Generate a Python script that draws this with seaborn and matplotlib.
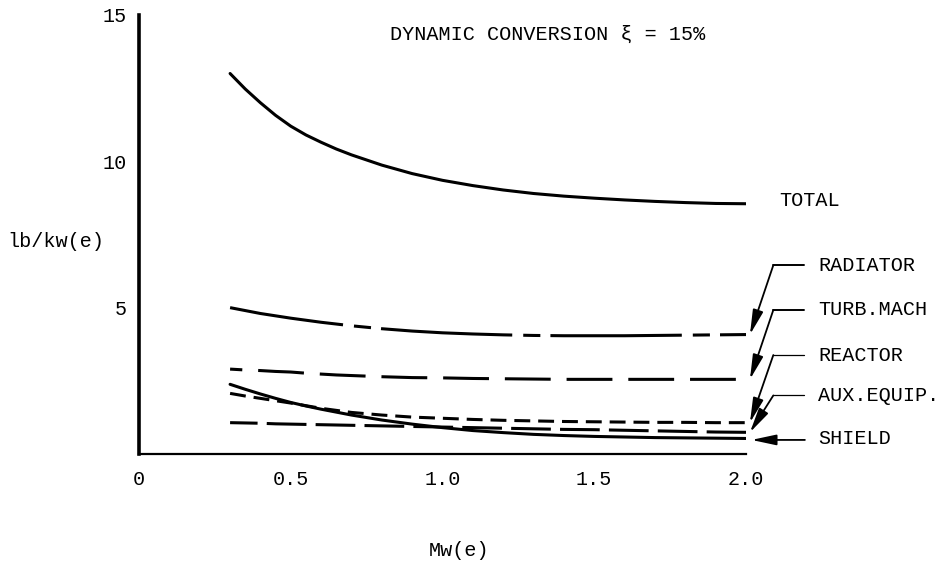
import matplotlib
matplotlib.use("Agg")
import matplotlib.pyplot as plt
import numpy as np
import pandas as pd
import seaborn as sns

# Specific weight of the power-plant components versus electrical output
mw = [0.3, 0.35, 0.4, 0.45, 0.5, 0.55, 0.6, 0.65, 0.7, 0.8, 0.9,
      1.0, 1.1, 1.2, 1.3, 1.4, 1.5, 1.6, 1.7, 1.8, 1.9, 2.0]
total = [13.0, 12.47, 12.0, 11.57, 11.2, 10.9, 10.65, 10.42, 10.22, 9.87, 9.58,
         9.35, 9.17, 9.02, 8.9, 8.81, 8.74, 8.68, 8.63, 8.59, 8.56, 8.55]
radiator = [5.0, 4.9, 4.8, 4.72, 4.64, 4.57, 4.5, 4.44, 4.38, 4.28, 4.2,
            4.14, 4.1, 4.07, 4.05, 4.04, 4.04, 4.04, 4.05, 4.06, 4.07, 4.08]
turb_mach = [2.9, 2.87, 2.85, 2.82, 2.8, 2.76, 2.73, 2.7, 2.68, 2.64, 2.61,
             2.6, 2.58, 2.57, 2.56, 2.55, 2.55, 2.55, 2.55, 2.55, 2.55, 2.55]
reactor = [2.07, 1.98, 1.9, 1.82, 1.74, 1.65, 1.56, 1.49, 1.42, 1.33, 1.26,
           1.22, 1.18, 1.15, 1.13, 1.11, 1.1, 1.09, 1.08, 1.08, 1.07, 1.07]
aux_equip = [1.07, 1.06, 1.05, 1.03, 1.02, 1.01, 1.0, 0.99, 0.98, 0.96, 0.94,
             0.92, 0.9, 0.88, 0.86, 0.84, 0.83, 0.81, 0.79, 0.77, 0.75, 0.74]
shield = [2.38, 2.21, 2.05, 1.9, 1.76, 1.64, 1.53, 1.43, 1.33, 1.16, 1.02,
          0.9, 0.8, 0.73, 0.67, 0.63, 0.6, 0.58, 0.56, 0.55, 0.54, 0.53]

components = ["TOTAL", "RADIATOR", "TURB.MACH", "REACTOR", "AUX.EQUIP.", "SHIELD"]
series = [total, radiator, turb_mach, reactor, aux_equip, shield]

x_ticks = [0, 0.5, 1.0, 1.5, 2.0]
x_tick_labels = ["0", "0.5", "1.0", "1.5", "2.0"]
y_ticks = [5, 10, 15]
y_tick_labels = ["5", "10", "15"]

df = pd.concat(
    [pd.DataFrame({"mw": mw, "weight": vals, "component": name})
     for name, vals in zip(components, series)],
    ignore_index=True,
)

sns.set_theme(style="white")
plt.rcParams["font.family"] = ["Liberation Mono", "DejaVu Sans Mono"]
plt.rcParams["text.color"] = "black"
plt.rcParams["axes.labelcolor"] = "black"
plt.rcParams["xtick.color"] = "black"
plt.rcParams["ytick.color"] = "black"

FS = 14.5

line_styles = {
    "TOTAL": "-",
    "RADIATOR": (5.6, (43, 3.6, 5.6, 3.3)),
    "TURB.MACH": (11, (15, 5.2)),
    "REACTOR": (0, (5.2, 2.6)),
    "AUX.EQUIP.": (4, (13, 3)),
    "SHIELD": "-",
}

fig = plt.figure(figsize=(9.53, 5.65), dpi=100)
ax = fig.add_axes([0.1459, 0.1965, 0.6369, 0.777])

for name in components:
    sub = df[df["component"] == name]
    sns.lineplot(data=sub, x="mw", y="weight", ax=ax, color="black",
                 linewidth=2.2, linestyle=line_styles[name],
                 errorbar=None, legend=False)

ax.set_xlim(0, 2.0)
ax.set_ylim(0, 15)
for side in ("top", "right"):
    ax.spines[side].set_visible(False)
ax.spines["left"].set_linewidth(2.6)
ax.spines["bottom"].set_linewidth(1.6)
ax.spines["left"].set_color("black")
ax.spines["bottom"].set_color("black")

ax.set_xticks(x_ticks)
ax.set_xticklabels(x_tick_labels)
ax.set_yticks(y_ticks)
ax.set_yticklabels(y_tick_labels)
ax.tick_params(axis="x", direction="inout", length=11, width=1.6,
               pad=6, labelsize=FS)
ax.tick_params(axis="y", direction="inout", length=12, width=2.0,
               pad=3, labelsize=FS)
ax.xaxis.get_major_ticks()[0].tick1line.set_visible(False)

ax.set_ylabel("lb/kw(e)", rotation=0, ha="left", va="center", fontsize=FS)
ax.yaxis.set_label_coords(-0.2175, 0.483)
ax.set_xlabel("Mw(e)", ha="center", va="center", fontsize=FS)
ax.xaxis.set_label_coords(0.527, -0.219)

ax.text(0.827, 14.35, "DYNAMIC CONVERSION ξ = 15%", va="center",
        ha="left", fontsize=FS)

# Component labels at the right with pointer arrows to the curve ends
x_end = mw[-1]
ends = dict(zip(components, [s[-1] for s in series]))
ax.text(2.11, ends["TOTAL"] + 0.12, "TOTAL", va="center", ha="left",
        fontsize=FS)

label_levels = {"RADIATOR": 6.45, "TURB.MACH": 4.92,
                "REACTOR": 3.38, "AUX.EQUIP.": 2.0}
hook_widths = {"RADIATOR": 1.4, "TURB.MACH": 1.4,
               "REACTOR": 0.9, "AUX.EQUIP.": 0.9}
arrow_style = "-|>,head_length=1.5,head_width=0.32"
for name, level in label_levels.items():
    ax.plot([2.09, 2.19], [level, level], color="black",
            lw=hook_widths[name], clip_on=False)
    ax.annotate("", xy=(x_end + 0.013, ends[name]), xytext=(2.09, level),
                arrowprops=dict(arrowstyle=arrow_style, mutation_scale=10,
                                lw=1.3, color="black", shrinkA=0, shrinkB=0),
                annotation_clip=False)
    ax.text(2.237, level, name, va="center", ha="left", fontsize=FS)

ax.annotate("", xy=(x_end + 0.018, ends["SHIELD"] - 0.05),
            xytext=(2.194, ends["SHIELD"] - 0.05),
            arrowprops=dict(arrowstyle=arrow_style, mutation_scale=10,
                            lw=1.3, color="black", shrinkA=0, shrinkB=0),
            annotation_clip=False)
ax.text(2.237, ends["SHIELD"], "SHIELD", va="center", ha="left",
        fontsize=FS)

fig.savefig("out.png", dpi=100, facecolor="white")
